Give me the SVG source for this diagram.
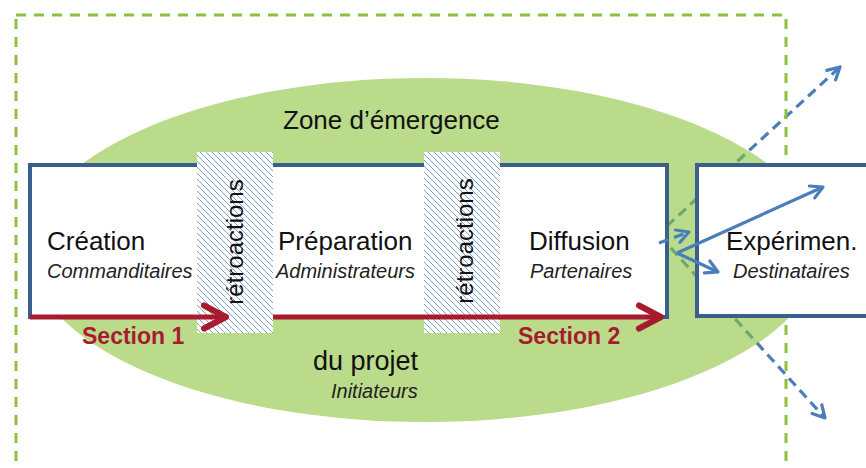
<svg xmlns="http://www.w3.org/2000/svg" width="866" height="468" viewBox="0 0 866 468">
<style>
.lbl{font-family:"Liberation Sans",Arial,sans-serif;font-size:26px;fill:#111}
.sub{font-family:"Liberation Sans",Arial,sans-serif;font-size:20px;font-style:italic;fill:#222}
.sec{font-family:"Liberation Sans",Arial,sans-serif;font-size:23px;font-weight:bold;fill:#A81B2F}
.retro{font-family:"Liberation Sans",Arial,sans-serif;font-size:24px;fill:#111}
.box{fill:#fff;stroke:#3A5F8C;stroke-width:4}
.hatch{fill:url(#hatch)}
.red{fill:none;stroke:#A81B2F;stroke-width:5;marker-end:url(#redHead)}
.blue{fill:none;stroke:#4A7EBB;stroke-width:3.2;marker-end:url(#blueHead)}
.dash{stroke-dasharray:10 6}
</style>
<defs>
<pattern id="hatch" patternUnits="userSpaceOnUse" width="6" height="6">
<rect width="6" height="6" fill="#fff"/>
<path d="M0,0 L6,6 M-1,5 L1,7 M5,-1 L7,1" stroke="#7098CC" stroke-width="0.9"/>
</pattern>
<marker id="redHead" markerUnits="userSpaceOnUse" viewBox="-30 -16 34 32" markerWidth="34" markerHeight="32" refX="0" refY="0" orient="auto">
<path d="M-22,-11.5 L0,0 L-22,11.5" fill="none" stroke="#A81B2F" stroke-width="6" stroke-linecap="round" stroke-linejoin="round"/>
</marker>
<marker id="blueHead" markerUnits="userSpaceOnUse" viewBox="-16 -10 20 20" markerWidth="20" markerHeight="20" refX="0" refY="0" orient="auto">
<path d="M-12,-6.5 L0,0 L-12,6.5" fill="none" stroke="#4A7EBB" stroke-width="3.2" stroke-linecap="round" stroke-linejoin="round"/>
</marker>
</defs>
<rect width="866" height="468" fill="#fff"/>

<g id="connectors-back">
<path class="blue dash" d="M655,237 L840,67"/>
<path class="blue dash" d="M660,236 L825,418"/>
</g>

<g id="zone">
<ellipse cx="425" cy="250" rx="396" ry="172" fill="rgb(138,195,60)" fill-opacity="0.6"/>
</g>

<g id="frame">
<rect x="16" y="15" width="770" height="470" fill="none" stroke="#8DC03F" stroke-width="3" stroke-dasharray="10 8"/>
</g>

<g id="main-box">
<rect class="box" x="30" y="165" width="637" height="152"/>
</g>
<g id="experimen">
<rect class="box" x="697" y="165" width="180" height="151"/>
<text class="lbl" x="726" y="250">Expérimen.</text>
<text class="sub" x="733" y="278">Destinataires</text>
</g>

<g id="retro1">
<rect class="hatch" x="197" y="152" width="76" height="181"/>
<text class="retro" transform="translate(243,242) rotate(-90)" text-anchor="middle">rétroactions</text>
</g>
<g id="retro2">
<rect class="hatch" x="424" y="152" width="76" height="181"/>
<text class="retro" transform="translate(473,241) rotate(-90)" text-anchor="middle">rétroactions</text>
</g>

<g id="connectors">
<path class="red" d="M30,317 L226,317"/>
<path class="red" d="M273,317 L661,317"/>
<path class="blue dash" d="M659,243 L689,232"/>
<path class="blue" d="M677,253 L823,187"/>
<path class="blue" d="M677,253 L718,272"/>
</g>

<g id="zone-labels">
<text class="lbl" x="283" y="129">Zone d’émergence</text>
<text class="lbl" x="313" y="370" style="font-size:27px">du projet</text>
<text class="sub" x="331" y="398">Initiateurs</text>
</g>
<g id="creation">
<text class="lbl" x="47" y="250">Création</text>
<text class="sub" x="47" y="278">Commanditaires</text>
</g>
<g id="preparation">
<text class="lbl" x="278" y="250">Préparation</text>
<text class="sub" x="276" y="278">Administrateurs</text>
</g>
<g id="diffusion">
<text class="lbl" x="529" y="250">Diffusion</text>
<text class="sub" x="530" y="278">Partenaires</text>
</g>
<g id="sections">
<text class="sec" x="82" y="344">Section 1</text>
<text class="sec" x="518" y="344">Section 2</text>
</g>
</svg>
